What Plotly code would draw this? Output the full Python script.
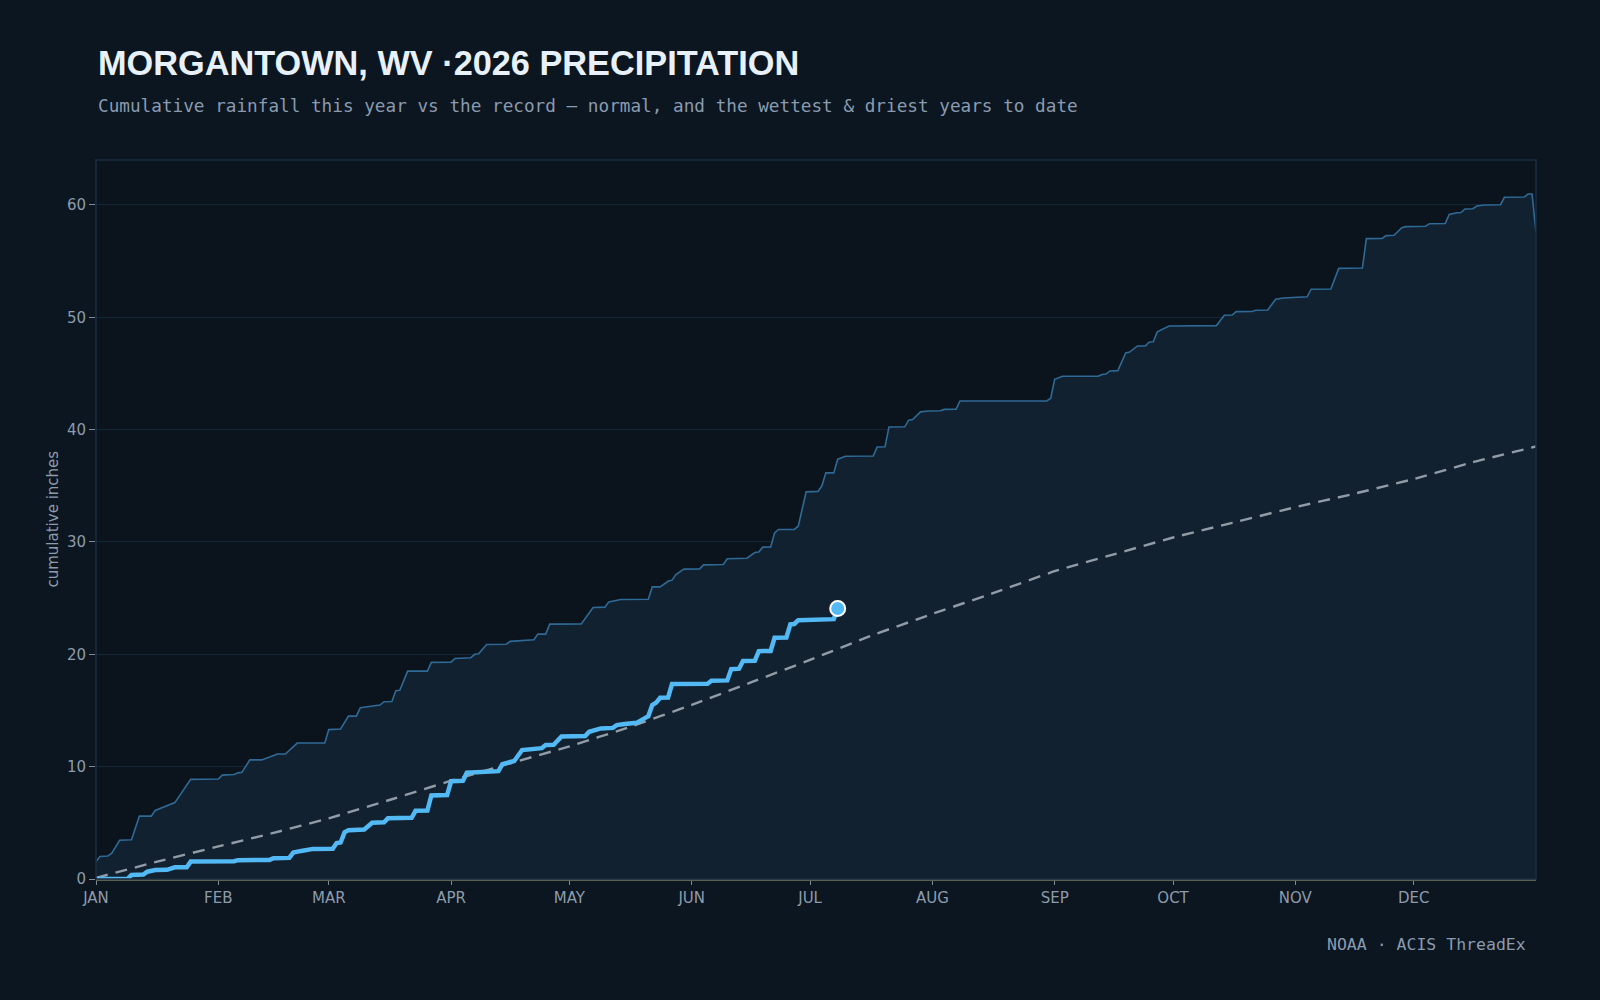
import pandas as pd
import plotly.graph_objects as go

BASE = pd.Timestamp("2026-01-01")

# ---- data (day offset from Jan 1, cumulative inches) ----
WET_DAYS = [0, 1, 3, 4, 6, 9, 11, 14, 15, 18, 20, 24, 31, 32, 35, 36, 37, 39, 42, 44,
            46, 48, 51, 58, 59, 62, 64, 66, 67, 72, 73, 75, 76, 77, 79, 84, 85, 90, 91, 95,
            96, 97, 99, 104, 105, 111, 112, 114, 115, 123, 126, 129, 130, 133, 140, 141, 143, 145, 146, 147,
            149, 153, 154, 159, 160, 165, 167, 168, 169, 171, 172, 173, 177, 178, 180, 183, 184, 185, 187, 188,
            190, 197, 198, 200, 201, 205, 206, 207, 209, 211, 214, 215, 218, 219, 241, 242, 243, 245, 254, 255,
            256, 257, 259, 261, 262, 264, 266, 267, 268, 269, 270, 272, 284, 286, 288, 289, 293, 294, 297, 299,
            301, 304, 307, 308, 313, 315, 321, 322, 326, 327, 329, 331, 332, 337, 338, 342, 343, 345, 346, 347,
            349, 350, 352, 356, 357, 362, 363, 364, 365]
WET_VALUES = [1.55, 2.0, 2.05, 2.3, 3.45, 3.5, 5.6, 5.6, 6.1, 6.55, 6.8, 8.87, 8.9, 9.25, 9.3, 9.45, 9.5, 10.6, 10.6, 10.85,
              11.12, 11.12, 12.1, 12.1, 13.3, 13.35, 14.5, 14.5, 15.25, 15.48, 15.78, 15.8, 16.75, 16.8, 18.5, 18.5, 19.28, 19.3, 19.63, 19.7,
              20.0, 20.05, 20.88, 20.9, 21.15, 21.3, 21.8, 21.8, 22.69, 22.7, 24.17, 24.2, 24.67, 24.88, 24.9, 26.0, 26.0, 26.5, 26.6, 27.1,
              27.58, 27.6, 27.96, 28.0, 28.5, 28.55, 29.06, 29.1, 29.54, 29.55, 30.8, 31.11, 31.12, 31.4, 34.46, 34.5, 35.0, 36.15, 36.15, 37.37,
              37.63, 37.65, 38.46, 38.48, 40.24, 40.25, 40.84, 40.9, 41.58, 41.66, 41.68, 41.8, 41.82, 42.55, 42.55, 42.8, 44.48, 44.75, 44.75, 44.9,
              44.95, 45.22, 45.25, 46.83, 46.9, 47.45, 47.45, 47.8, 47.82, 48.7, 48.9, 49.23, 49.26, 50.18, 50.2, 50.5, 50.52, 50.62, 50.65, 51.6,
              51.72, 51.8, 51.82, 52.5, 52.52, 54.35, 54.38, 57.0, 57.02, 57.27, 57.3, 57.98, 58.07, 58.1, 58.33, 58.35, 59.16, 59.3, 59.32, 59.64,
              59.66, 59.9, 60.0, 60.02, 60.68, 60.7, 60.97, 60.97, 57.6]

NORMAL_DAYS = [0, 15, 31, 45, 59, 75, 90, 105, 120, 135, 151, 166, 181, 196, 212, 227, 243, 258, 273, 288, 304, 319, 334, 349, 365]
NORMAL_VALUES = [0.1, 1.5, 2.9, 4.1, 5.4, 7.1, 8.75, 10.3, 11.8, 13.5, 15.5, 17.5, 19.5, 21.6, 23.6, 25.4, 27.4, 28.9, 30.4, 31.7,
                 33.1, 34.3, 35.6, 37.1, 38.5]

YEAR_DAYS = [0, 8, 9, 12, 13, 15, 18, 20, 23, 24, 35, 36, 44, 45, 49, 50, 52, 55, 60, 61,
             62, 63, 64, 68, 70, 73, 74, 80, 81, 84, 85, 89, 90, 93, 94, 99, 102, 103, 105, 106,
             108, 112, 113, 114, 116, 118, 124, 125, 128, 131, 132, 134, 135, 137, 139, 140, 141, 142, 143, 145,
             146, 155, 156, 160, 161, 163, 164, 167, 168, 171, 172, 175, 176, 177, 178, 187, 188]
YEAR_VALUES = [0, 0.02, 0.35, 0.4, 0.65, 0.8, 0.82, 1.04, 1.05, 1.55, 1.58, 1.68, 1.7, 1.85, 1.88, 2.35, 2.5, 2.68, 2.7, 3.2,
               3.25, 4.15, 4.35, 4.4, 5.0, 5.05, 5.4, 5.45, 6.07, 6.1, 7.44, 7.47, 8.7, 8.75, 9.46, 9.55, 9.6, 10.23, 10.44, 10.5,
               11.48, 11.6, 11.65, 11.92, 11.95, 12.69, 12.72, 13.1, 13.4, 13.45, 13.7, 13.8, 13.85, 13.9, 14.3, 14.5, 15.48, 15.7, 16.13, 16.15,
               17.35, 17.38, 17.65, 17.68, 18.68, 18.72, 19.4, 19.43, 20.28, 20.3, 21.47, 21.5, 22.66, 22.7, 23.04, 23.13, 24.08]

MONTH_LABELS = ["JAN", "FEB", "MAR", "APR", "MAY", "JUN", "JUL", "AUG", "SEP", "OCT", "NOV", "DEC"]

TITLE = "MORGANTOWN, WV ·2026 PRECIPITATION"
SUBTITLE = "Cumulative rainfall this year vs the record — normal, and the wettest & driest years to date"
SOURCE = "NOAA · ACIS ThreadEx"
Y_TITLE = "cumulative inches"


def to_dates(days):
    return [BASE + pd.Timedelta(days=d) for d in days]


wet_x = to_dates(WET_DAYS)
norm_x = to_dates(NORMAL_DAYS)
year_x = to_dates(YEAR_DAYS)
month_ticks = [pd.Timestamp(2026, m, 1) for m in range(1, 13)]

fig = go.Figure()

fig.add_trace(go.Scatter(
    x=wet_x, y=WET_VALUES, mode="lines", fill="tozeroy",
    fillcolor="#12212f", line=dict(color="#2f6a96", width=1.6),
    hoverinfo="skip", showlegend=False,
))
fig.add_trace(go.Scatter(
    x=norm_x, y=NORMAL_VALUES, mode="lines",
    line=dict(color="#929ca6", width=2.4, dash="12px,8px", shape="spline", smoothing=0.3),
    hoverinfo="skip", showlegend=False,
))
fig.add_trace(go.Scatter(
    x=year_x, y=YEAR_VALUES, mode="lines",
    line=dict(color="#52b9f5", width=4.5),
    hoverinfo="skip", showlegend=False,
))
fig.add_trace(go.Scatter(
    x=[year_x[-1]], y=[YEAR_VALUES[-1]], mode="markers",
    marker=dict(size=15, color="#52b9f5", line=dict(color="#ffffff", width=2)),
    hoverinfo="skip", showlegend=False,
))

L, R, T, B = 96, 64, 160, 121
W, H = 1600, 1000
pw, ph = W - L - R, H - T - B


def px_x(px):
    return (px - L) / pw


def px_y(py):
    return (H - B - py) / ph


fig.update_layout(
    width=W, height=H,
    margin=dict(l=L, r=R, t=T, b=B),
    paper_bgcolor="#0c1620",
    plot_bgcolor="#0b141d",
    font=dict(family="DejaVu Sans", color="#8d9bab"),
    showlegend=False,
    xaxis=dict(
        type="date",
        range=[BASE, BASE + pd.Timedelta(days=365)],
        tickvals=month_ticks, ticktext=MONTH_LABELS,
        ticks="outside", ticklen=4, tickcolor="#7d8a96", tickwidth=1,
        tickfont=dict(family="DejaVu Sans", size=15, color="#8d9bab"),
        showgrid=False, zeroline=False,
        showline=True, linecolor="#5d5f52", linewidth=1.5,
    ),
    yaxis=dict(
        range=[0, 64],
        tickvals=[0, 10, 20, 30, 40, 50, 60],
        ticks="outside", ticklen=6, tickcolor="#7d8a96", tickwidth=1,
        tickfont=dict(family="DejaVu Sans", size=15, color="#8d9bab"),
        showgrid=True, gridcolor="#14273a", gridwidth=1,
        zeroline=False, showline=False,
    ),
    shapes=[dict(
        type="rect", xref="paper", yref="paper", x0=0, x1=1, y0=0, y1=1,
        line=dict(color="#1b2d3f", width=1.5), fillcolor="rgba(0,0,0,0)", layer="above",
    )],
    annotations=[
        dict(text=f"<b>{TITLE}</b>", xref="paper", yref="paper", x=0, y=px_y(63),
             xanchor="left", yanchor="middle", showarrow=False,
             font=dict(family="Liberation Sans", size=34.3, color="#e8f1fa")),
        dict(text=SUBTITLE, xref="paper", yref="paper", x=0, y=px_y(106),
             xanchor="left", yanchor="middle", showarrow=False,
             font=dict(family="DejaVu Sans Mono", size=17.7, color="#8a9bb0")),
        dict(text=SOURCE, xref="paper", yref="paper", x=px_x(1528), y=px_y(944),
             xanchor="right", yanchor="middle", showarrow=False,
             font=dict(family="DejaVu Sans Mono", size=16.5, color="#8a9bb0")),
        dict(text=Y_TITLE, xref="paper", yref="paper", x=px_x(52), y=0.5,
             xanchor="center", yanchor="middle", showarrow=False, textangle=-90,
             font=dict(family="DejaVu Sans", size=15, color="#8d9bab")),
    ],
)

fig.write_html("out.html")
